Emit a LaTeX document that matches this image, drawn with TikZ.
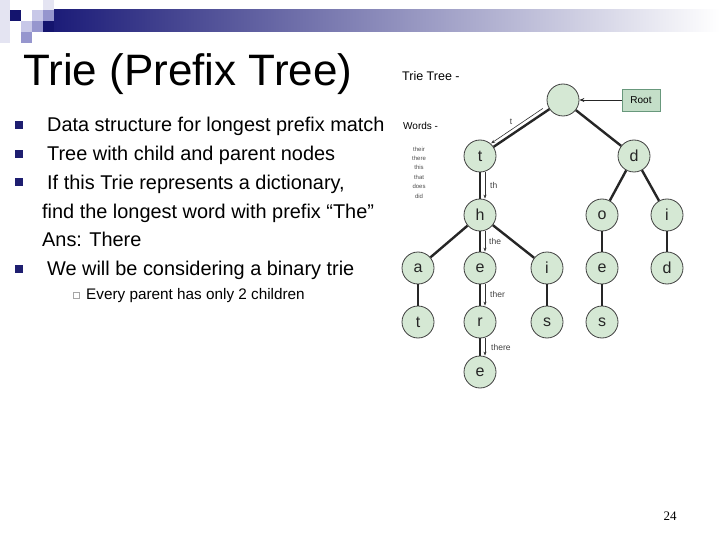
\documentclass[tikz,border=0pt]{standalone}
\usepackage{fontspec}
\setmainfont{Liberation Sans}
\newfontfamily\numfont{Liberation Serif}
\usetikzlibrary{arrows.meta,positioning,calc}
\definecolor{barnavy}{RGB}{24,24,118}
\definecolor{barmid}{RGB}{150,150,184}
\definecolor{bulnavy}{RGB}{30,30,112}
\definecolor{sqnavy}{RGB}{20,20,110}
\definecolor{sqmid}{RGB}{150,150,206}
\definecolor{sqlight}{RGB}{200,200,232}
\definecolor{sqpale}{RGB}{228,228,242}
\definecolor{triegreen}{RGB}{213,232,212}
\definecolor{rootfill}{RGB}{196,222,200}
\definecolor{rootdraw}{RGB}{104,152,124}
\tikzset{
  tnode/.style={circle,draw=black!75,line width=0.8pt,fill=triegreen,minimum size=32pt,inner sep=0pt,text=black!85,font=\fontsize{16}{16}\selectfont},
  rootblk/.style={draw=rootdraw,fill=rootfill,line width=0.9pt,minimum width=38pt,minimum height=22pt,inner sep=0pt,font=\fontsize{10}{10}\selectfont},
  link/.style={line width=2.4pt,black!85},
  trc/.style={-{Stealth[length=4pt,width=3pt]},line width=0.6pt,black!80},
  rarr/.style={-{Stealth[length=5pt,width=4pt]},line width=0.8pt,black!85},
  plbl/.style={anchor=west,inner sep=0pt,font=\fontsize{8.5}{8.5}\selectfont,text=black!75},
  sqbul/.style={rectangle,fill=bulnavy,minimum size=8pt,inner sep=0pt},
  subbul/.style={rectangle,draw=gray!70,line width=0.5pt,minimum size=6pt,inner sep=0pt},
  bodytxt/.style={anchor=base west,inner sep=0pt,font=\fontsize{19.9}{20}\selectfont},
  subtxt/.style={anchor=base west,inner sep=0pt,font=\fontsize{15.3}{15.5}\selectfont},
}

\begin{document}
\begin{tikzpicture}[x=1pt,y=-1pt]
  \useasboundingbox (0,0) rectangle (720,540);
  % Header bar and squares
  \shade[left color=barnavy,middle color=barmid,right color=white] (43,10) rectangle (720,32);
  \fill[sqpale] (0,0) rectangle (10,43);
  \foreach \sx/\sy/\sc in {10/10/sqnavy,32/10/sqlight,43/0/sqpale,43/10/sqmid,21/21/sqlight,32/21/sqmid,43/21/sqnavy,21/32/sqmid}
    \fill[\sc] (\sx,\sy) rectangle ++(11,11);

  % Title
  \node[anchor=base west,inner sep=0pt,font=\fontsize{44}{44}\selectfont] (title) at (23,86) {Trie (Prefix Tree)};

  % Bullets
  \node[sqbul] (b1) at (19,125) {};
  \node[bodytxt] (l1) at (47,132) {Data structure for longest prefix match};
  \node[sqbul] (b2) at (19,153.7) {};
  \node[bodytxt] (l2) at (47,160.7) {Tree with child and parent nodes};
  \node[sqbul] (b3) at (19,182.4) {};
  \node[bodytxt] (l3) at (47,189.4) {If this Trie represents a dictionary,};
  \node[bodytxt] (l4) at (42,218.1) {find the longest word with prefix “The”};
  \node[bodytxt] (l5) at (42,246.8) {Ans: There};
  \node[sqbul] (b4) at (19,268.5) {};
  \node[bodytxt] (l6) at (47,275.5) {We will be considering a binary trie};
  \node[subbul] (sb1) at (76,295) {};
  \node[subtxt] (s1) at (86,299) {Every parent has only 2 children};

  % Trie picture captions
  \node[anchor=base west,inner sep=0pt,font=\fontsize{12.5}{12.5}\selectfont] (tt) at (402,81) {Trie Tree -};
  \node[anchor=base west,inner sep=0pt,font=\fontsize{10}{10}\selectfont] (wd) at (403,130) {Words -};
  \node[align=center,inner sep=0pt,text=black!70,font=\fontsize{6}{9.4}\selectfont] (wlist) at (419,172.5) {their\\there\\this\\that\\does\\did};

  % Trie nodes
  \node[tnode] (root) at (563,100) {};
  \node[rootblk] (rootbox) at (641,100) {Root};
  \node[tnode] (t1) at (480,156) {t};
  \node[tnode] (d1) at (634,156) {d};
  \node[tnode] (h1) at (480,215) {h};
  \node[tnode] (o1) at (602,215) {o};
  \node[tnode] (i1) at (667,215) {i};
  \node[tnode] (a1) at (418,268) {a};
  \node[tnode] (e1) at (480,268) {e};
  \node[tnode] (i2) at (547,268) {i};
  \node[tnode] (e2) at (602,268) {e};
  \node[tnode] (d2) at (667,268) {d};
  \node[tnode] (t2) at (418,322) {t};
  \node[tnode] (r1) at (480,322) {r};
  \node[tnode] (s1n) at (547,322) {s};
  \node[tnode] (s2) at (602,322) {s};
  \node[tnode] (e3) at (480,372) {e};

  % Tree links
  \foreach \a/\b in {root/t1,root/d1,t1/h1,d1/o1,d1/i1,h1/a1,h1/e1,h1/i2,o1/e2,e2/s2,i1/d2,a1/t2,e1/r1,i2/s1n,r1/e3}
    \draw[link] (\a) -- (\b);
  \draw[rarr] (rootbox) -- (root);

  % Search path for "there"
  \draw[trc,transform canvas={shift={(-2.5pt,3.5pt)}},shorten <=5pt] (root) -- (t1);
  \foreach \a/\b in {t1/h1,h1/e1,e1/r1,r1/e3}
    \draw[trc,transform canvas={xshift=5pt}] (\a) -- (\b);
  \node[plbl,anchor=center] (pt) at (511,122) {t};
  \node[plbl] (pth) at (490,185) {th};
  \node[plbl] (pthe) at (489,241) {the};
  \node[plbl] (pther) at (490,294) {ther};
  \node[plbl] (pthere) at (491,347) {there};

  % Page number
  \node[inner sep=0pt,font=\numfont\fontsize{13}{13}\selectfont] (pg) at (670,516) {24};
\end{tikzpicture}
\end{document}
